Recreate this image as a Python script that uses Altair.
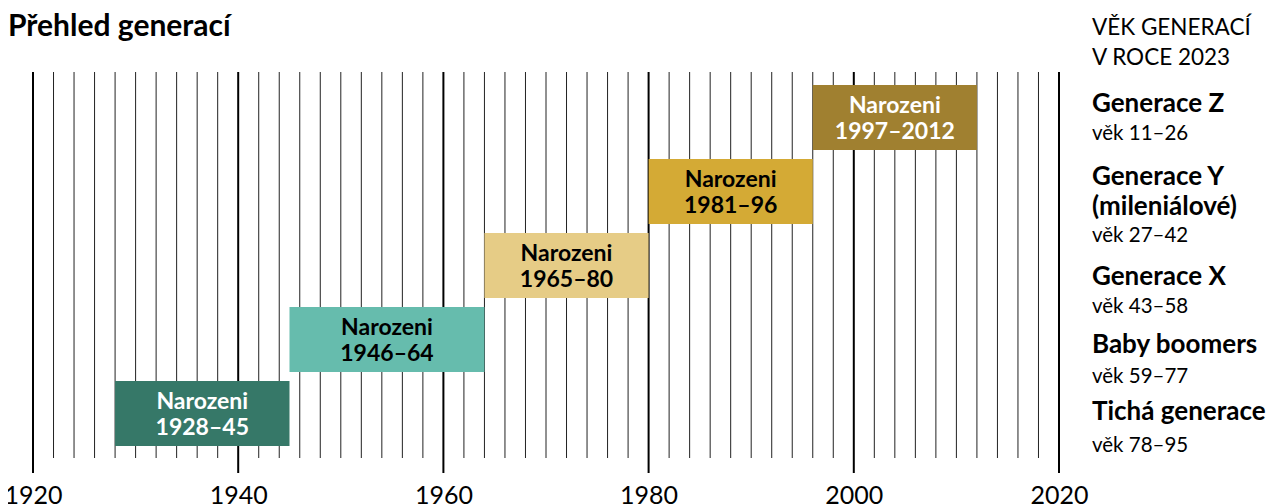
import altair as alt
import pandas as pd

# ---- data ----
generations = ["Tichá generace", "Baby boomers", "Generace X", "Generace Y\n(mileniálové)", "Generace Z"]
ages = ["věk 78–95", "věk 59–77", "věk 43–58", "věk 27–42", "věk 11–26"]
bar_start = [1928, 1945, 1964, 1980, 1996]
bar_end = [1945, 1964, 1980, 1996, 2012]
bar_labels = ["Narozeni\n1928–45", "Narozeni\n1946–64", "Narozeni\n1965–80", "Narozeni\n1981–96", "Narozeni\n1997–2012"]
bar_colors = ["#367868", "#66bcad", "#e6cc86", "#d4aa35", "#a08030"]
label_colors = ["#ffffff", "#000000", "#000000", "#000000", "#ffffff"]
tick_years = [1920, 1940, 1960, 1980, 2000, 2020]
minor_years = [y for y in range(1920, 2021, 2) if y % 20 != 0]

FONT = "Lato"

bars = pd.DataFrame({
    "gen": generations,
    "row": list(range(len(generations))),
    "start": bar_start,
    "end": bar_end,
    "label": bar_labels,
    "color": bar_colors,
    "tcolor": label_colors,
})
bars["mid"] = (bars["start"] + bars["end"]) / 2
bars["lo"] = bars["row"] - 0.44
bars["hi"] = bars["row"] + 0.44

xscale = alt.Scale(domain=[1920, 2020], nice=False, zero=False)
yscale = alt.Scale(domain=[-0.804, 5.48], nice=False, zero=False)

minor = alt.Chart(pd.DataFrame({"year": minor_years})).mark_rule(
    color="#222222", strokeWidth=1
).encode(
    x=alt.X("year:Q", scale=xscale,
            axis=alt.Axis(values=tick_years, format="d", domain=False, ticks=False, grid=False,
                          labelFont=FONT, labelFontSize=25, labelColor="#000000", labelPadding=10,
                          labelFlush=False, labelOverlap=False, title=None)),
    y=alt.value(64), y2=alt.value(450),
)

major = alt.Chart(pd.DataFrame({"year": tick_years})).mark_rule(
    color="#000000", strokeWidth=2
).encode(
    x=alt.X("year:Q", scale=xscale),
    y=alt.value(64), y2=alt.value(465),
)

rects = alt.Chart(bars).mark_rect().encode(
    x=alt.X("start:Q", scale=xscale),
    x2="end:Q",
    y=alt.Y("lo:Q", scale=yscale, axis=None),
    y2="hi:Q",
    color=alt.Color("color:N", scale=None, legend=None),
)

labels = alt.Chart(bars).mark_text(
    font=FONT, fontSize=23, fontWeight="bold", lineBreak="\n", lineHeight=26,
    baseline="middle", align="center", dy=-12,
).encode(
    x=alt.X("mid:Q", scale=xscale),
    y=alt.Y("row:Q", scale=yscale),
    text="label:N",
    color=alt.Color("tcolor:N", scale=None, legend=None),
)

layers = [minor, major, rects, labels]

def txt(s, x, y, size, weight="normal", color="#000000"):
    return alt.Chart(pd.DataFrame({"t": [s]})).mark_text(
        font=FONT, fontSize=size, fontWeight=weight, align="left", baseline="alphabetic",
        color=color, lineBreak="\n", lineHeight=30,
    ).encode(x=alt.value(x), y=alt.value(y), text="t:N")

# title
layers.append(txt("Přehled generací", -25, 28, 30, "bold"))
# right header
layers.append(txt("VĚK GENERACÍ", 1059, 27, 22.5))
layers.append(txt("V ROCE 2023", 1059, 57, 22.5))

# right-hand generation names & ages (top to bottom)
name_y = [412, 345, 277, 177, 104]
age_y = [444, 375, 305, 234, 132]
for g, a, ny, ay in zip(generations, ages, name_y, age_y):
    layers.append(txt(g, 1059, ny, 26, "bold"))
    layers.append(txt(a, 1059, ay, 20.5))

chart = alt.layer(*layers).properties(
    width=1026, height=465,
    padding={"left": 25, "top": 0, "right": 218, "bottom": 31},
    autosize=alt.AutoSizeParams(type="none"),
).configure(background="#ffffff", view=alt.ViewConfig(stroke=None))

chart.save("out.html", embed_options={"renderer": "svg", "actions": False})
